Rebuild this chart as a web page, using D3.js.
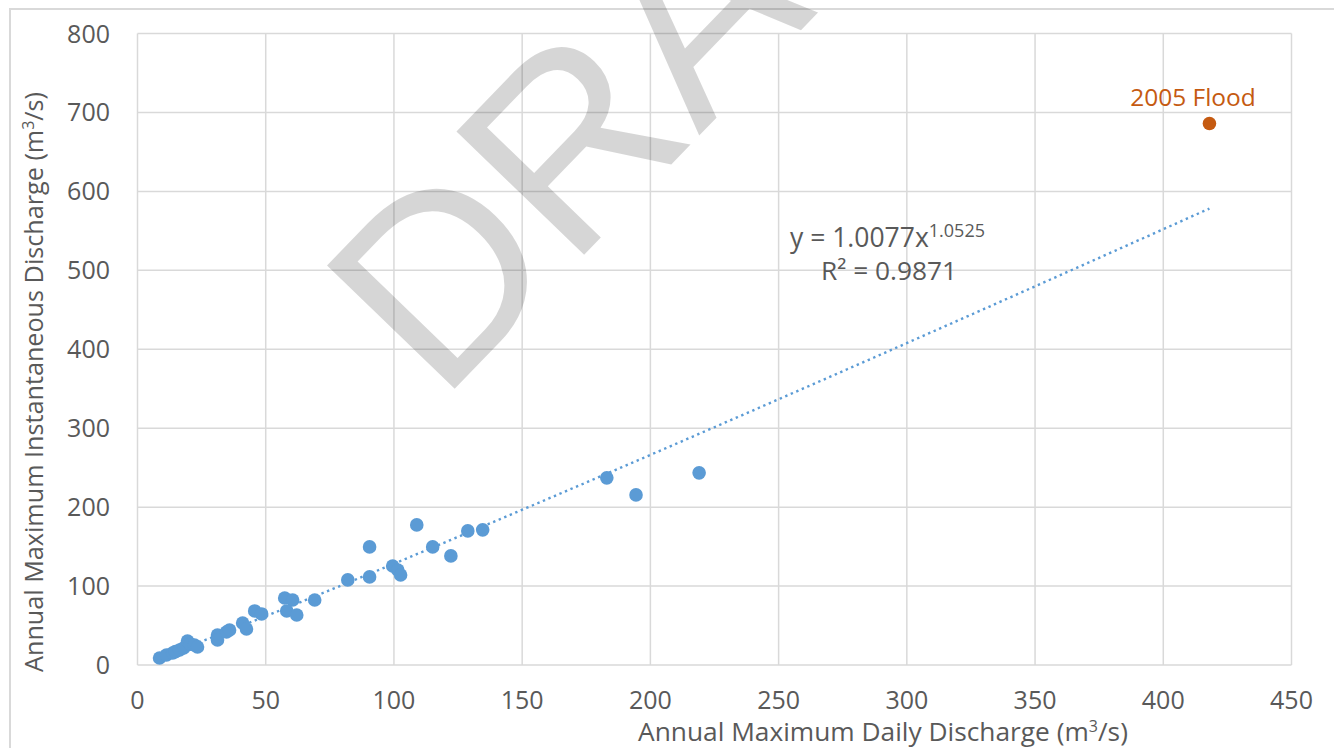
<!DOCTYPE html>
<html>
<head>
<meta charset="utf-8">
<script src="https://cdn.jsdelivr.net/npm/d3@7"></script>
<style>
  html, body { margin: 0; padding: 0; background: #fff; }
  svg { display: block; }
  text { font-family: "Open Sans", "Noto Sans", sans-serif; fill: #595959; }
</style>
</head>
<body>
<svg id="chart" width="1334" height="748"></svg>
<script>
// ---- data ----
const dailyQ = [8.6, 11.3, 13.7, 14.8, 16.4, 18.0, 19.5, 20.6, 22.2, 23.4, 31.2, 31.2, 34.7, 35.9, 41.0, 42.5, 45.7, 48.4, 57.4, 60.5, 58.2, 62.1, 69.1, 82.0, 90.5, 90.5, 99.5, 101.5, 102.6, 108.9, 115.1, 122.2, 128.8, 134.6, 183.0, 194.4, 219.0];
const instQ  = [8.9, 12.7, 15.2, 17.0, 19.0, 21.5, 30.4, 26.5, 25.4, 22.8, 38.0, 31.7, 41.8, 44.4, 53.2, 45.6, 68.5, 64.7, 84.9, 82.4, 68.5, 63.4, 82.4, 107.8, 149.6, 111.6, 125.5, 120.4, 114.0, 177.5, 149.6, 138.2, 169.9, 171.2, 237.1, 215.5, 243.4];
const floodLabel = "2005 Flood";
const floodDaily = [418.0];
const floodInst = [686.0];
const trendCoef = [1.0077];
const trendExp = [1.0525];
const r2Value = ["0.9871"];
const xTicks = [0, 50, 100, 150, 200, 250, 300, 350, 400, 450];
const yTicks = [0, 100, 200, 300, 400, 500, 600, 700, 800];
const xTitle = "Annual Maximum Daily Discharge (m";
const yTitle = "Annual Maximum Instantaneous Discharge (m";
const watermark = "DRAFT";

// ---- layout ----
const svg = d3.select("#chart");
const x = d3.scaleLinear().domain([0, 450]).range([137.5, 1291.5]);
const y = d3.scaleLinear().domain([0, 800]).range([665, 33.5]);
const blue = "#5B9BD5", orange = "#C55A11", grid = "#d9d9d9";

// outer chart border
svg.append("rect").attr("x", 10).attr("y", 9).attr("width", 1340).attr("height", 760)
  .attr("fill", "none").attr("stroke", grid).attr("stroke-width", 2);

// gridlines
svg.append("g").selectAll("line").data(xTicks).join("line")
  .attr("x1", d => x(d)).attr("x2", d => x(d))
  .attr("y1", y(0)).attr("y2", y(800))
  .attr("stroke", grid).attr("stroke-width", 1.5);
svg.append("g").selectAll("line").data(yTicks).join("line")
  .attr("x1", x(0)).attr("x2", x(450))
  .attr("y1", d => y(d)).attr("y2", d => y(d))
  .attr("stroke", grid).attr("stroke-width", 1.5);

// tick labels
svg.append("g").selectAll("text").data(xTicks).join("text")
  .attr("x", d => x(d)).attr("y", 709)
  .attr("text-anchor", "middle").attr("font-size", 25)
  .text(d => d);
svg.append("g").selectAll("text").data(yTicks).join("text")
  .attr("x", 110).attr("y", d => y(d)).attr("dy", "0.36em")
  .attr("text-anchor", "end").attr("font-size", 25)
  .text(d => d);

// axis titles
const xt = svg.append("text").attr("x", 883).attr("y", 741)
  .attr("text-anchor", "middle").attr("font-size", 26.3);
xt.append("tspan").text(xTitle);
xt.append("tspan").attr("font-size", 16).attr("dy", -9).text("3");
xt.append("tspan").attr("dy", 9).text("/s)");

const yt = svg.append("text").attr("transform", "translate(43,382) rotate(-90)")
  .attr("text-anchor", "middle").attr("font-size", 25.2);
yt.append("tspan").text(yTitle);
yt.append("tspan").attr("font-size", 16).attr("dy", -9).text("3");
yt.append("tspan").attr("dy", 9).text("/s)");

// trendline (power fit)
const xMin = d3.min(dailyQ), xMax = floodDaily[0];
const trendPts = d3.range(0, 201).map(i => {
  const xv = xMin + (xMax - xMin) * i / 200;
  return [xv, trendCoef[0] * Math.pow(xv, trendExp[0])];
});
svg.append("path")
  .attr("d", d3.line().x(d => x(d[0])).y(d => y(d[1]))(trendPts))
  .attr("fill", "none").attr("stroke", blue).attr("stroke-width", 2.4)
  .attr("stroke-dasharray", "2.4 3.6");

// points
const pts = dailyQ.map((d, i) => [d, instQ[i]]);
svg.append("g").selectAll("circle").data(pts).join("circle")
  .attr("cx", d => x(d[0])).attr("cy", d => y(d[1])).attr("r", 6.8)
  .attr("fill", blue);

svg.append("g").selectAll("circle").data(floodDaily).join("circle")
  .attr("cx", d => x(d)).attr("cy", (d, i) => y(floodInst[i])).attr("r", 6.8)
  .attr("fill", orange);
svg.append("text").attr("x", 1193).attr("y", 106)
  .attr("text-anchor", "middle").attr("font-size", 24.5)
  .style("fill", "#C55A11").text(floodLabel);

// equation
const eq = svg.append("text").attr("x", 790).attr("y", 247).attr("font-size", 26.5);
eq.append("tspan").text("y = " + trendCoef[0].toFixed(4) + "x");
eq.append("tspan").attr("font-size", 18).attr("dy", -10).text(trendExp[0].toFixed(4));
svg.append("text").attr("x", 821).attr("y", 280).attr("font-size", 26.3)
  .text("R² = " + r2Value[0]);

// watermark
svg.append("text")
  .attr("transform", "translate(440,404) rotate(-46)")
  .attr("font-size", 258)
  .style("font-family", "'Liberation Sans', Arial, sans-serif")
  .style("fill", "#000").style("fill-opacity", 0.16)
  .text(watermark);
</script>
</body>
</html>
